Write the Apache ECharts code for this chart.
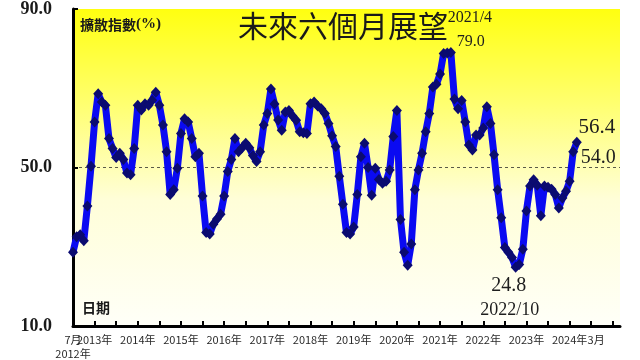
<!DOCTYPE html>
<html><head><meta charset="utf-8">
<script src="https://cdn.jsdelivr.net/npm/echarts@6/dist/echarts.min.js"></script>
<style>html,body{margin:0;padding:0;background:#fff}#c{width:640px;height:360px}</style>
</head><body><div id="c"></div>
<script>
// Monthly diffusion index, July 2012 .. March 2024
const values2012 = [28.6, 32.5, 33.0, 31.5, 40.3, 50.3];
const values2013 = [61.5, 68.6, 66.5, 65.7, 57.3, 54.8, 52.5, 53.6, 52.0, 48.6, 48.2, 54.8];
const values2014 = [65.7, 64.5, 66.1, 65.7, 67.0, 69.0, 65.7, 60.7, 54.0, 43.2, 44.4, 49.8];
const values2015 = [58.6, 62.3, 61.5, 57.3, 52.7, 53.6, 42.8, 33.6, 33.2, 35.7, 37.0, 38.2];
const values2016 = [42.8, 49.0, 52.0, 57.3, 54.0, 55.0, 56.1, 55.0, 53.0, 51.5, 54.0, 60.7];
const values2017 = [63.6, 69.8, 66.0, 62.0, 59.4, 64.0, 64.4, 63.0, 61.9, 59.0, 58.8, 58.6];
const values2018 = [66.1, 66.5, 65.5, 64.8, 63.6, 61.1, 58.0, 55.3, 47.8, 40.7, 33.6, 33.2];
const values2019 = [35.0, 43.2, 52.7, 56.1, 50.0, 43.0, 49.8, 47.0, 46.0, 46.5, 49.4, 57.8];
const values2020 = [64.4, 36.9, 28.6, 25.3, 30.7, 44.4, 49.4, 53.6, 59.0, 63.6, 70.3, 71.0];
const values2021 = [73.6, 78.8, 78.9, 79.0, 67.3, 64.8, 66.9, 61.5, 55.7, 54.4, 58.2, 58.2];
const values2022 = [60.0, 65.3, 61.1, 53.2, 44.4, 37.3, 29.8, 28.6, 27.3, 24.8, 25.5, 29.4];
const values2023 = [39.0, 45.3, 46.9, 45.5, 37.8, 45.3, 45.0, 44.5, 43.2, 39.8, 42.3, 44.0];
const values2024 = [46.5, 54.0, 56.4];

const yearLabels = ['2013年','2014年','2015年','2016年','2017年','2018年','2019年','2020年','2021年','2022年','2023年','2024年'];
const firstLabel = ['7月', '2012年'];
const lastMonthLabel = '3月';
const titleText = '未來六個月展望';
const yName = '擴散指數';
const yUnit = '(%)';
const xName = '日期';
// annotations: month index (from July 2012) and text
const notePeak = { index: 105, date: '2021/4' };
const noteLow = { index: 123, date: '2022/10' };
const noteLast = 140;
const notePrev = 139;

const values = [].concat(values2012, values2013, values2014, values2015, values2016,
  values2017, values2018, values2019, values2020, values2021, values2022, values2023, values2024);
const seriesData = values.map((v, i) => [i, v]);

const tickVals = [];
for (let m = 0; m <= 150; m += 6) tickVals.push(m);
const labelVals = [];
yearLabels.forEach((_, k) => labelVals.push(6 + 12 * k));

function fmtX(v) {
  const k = (v - 6) / 12;
  return yearLabels[k] || '';
}

const serif = "'Liberation Serif','Times New Roman',serif";
const cjk = "'Noto Sans CJK TC','Noto Sans CJK SC',sans-serif";

function note(idx, text, dx, dy, size) {
  return {
    coord: [idx, values[idx]], value: text, symbolSize: 0,
    label: { show: true, position: 'inside', offset: [dx, dy], formatter: text,
      color: '#1e1e1e', fontFamily: serif, fontSize: size }
  };
}

const chart = echarts.init(document.getElementById('c'), null, { renderer: 'canvas' });

function build() {
  // pixel positions of first/last months from the axis scale for the extra month texts
  const p0 = chart.convertToPixel({ xAxisIndex: 0, yAxisIndex: 0 }, [0, 10]);
  const pLast = chart.convertToPixel({ xAxisIndex: 0, yAxisIndex: 0 }, [6 + 12 * (yearLabels.length - 1), 10]);
  const lblStyle = { fontFamily: cjk, fontSize: 11, fill: '#2a2a2a' };
  chart.setOption({
    graphic: [
      { id: 'g1', type: 'text', x: p0[0], y: p0[1] + 14, style: Object.assign({ text: firstLabel[0], align: 'center', verticalAlign: 'middle' }, lblStyle) },
      { id: 'g2', type: 'text', x: p0[0], y: p0[1] + 28, style: Object.assign({ text: firstLabel[1], align: 'center', verticalAlign: 'middle' }, lblStyle) },
      { id: 'g3', type: 'text', x: pLast[0] + 18, y: p0[1] + 14, style: Object.assign({ text: lastMonthLabel, align: 'left', verticalAlign: 'middle' }, lblStyle) }
    ]
  });
}

chart.setOption({
  animation: false,
  backgroundColor: '#ffffff',
  title: {
    text: titleText, left: 233, top: 6,
    textStyle: { fontFamily: cjk, fontSize: 30, fontWeight: 'normal', color: '#1a1a1a' }
  },
  graphic: [
    { id: 'yname', type: 'text', left: 80, top: 17, style: {
      text: '{a|' + yName + '}{b|' + yUnit + '}',
      rich: { a: { fontFamily: cjk, fontWeight: 'bold', fontSize: 14, fill: '#1a1a1a' },
              b: { fontFamily: serif, fontWeight: 'bold', fontSize: 15, fill: '#1a1a1a' } } } },
    { id: 'xname', type: 'text', left: 82, top: 301, style: {
      text: xName, fontFamily: cjk, fontWeight: 'bold', fontSize: 14, fill: '#1a1a1a' } }
  ],
  grid: {
    left: 73, right: 20, top: 6, bottom: 34, show: true, borderWidth: 0,
    backgroundColor: { type: 'linear', x: 0, y: 0, x2: 0, y2: 1, colorStops: [
      { offset: 0, color: '#ffff10' }, { offset: 0.3, color: '#ffff70' },
      { offset: 0.6, color: '#fffed8' }, { offset: 1, color: '#fffff8' }] }
  },
  xAxis: {
    type: 'value', min: 0, max: 152, interval: 6,
    axisLine: { lineStyle: { color: '#000', width: 3 } },
    axisTick: { show: true, inside: true, length: 5, lineStyle: { color: '#000', width: 2 }, customValues: tickVals },
    splitLine: { show: false },
    axisLabel: {
      customValues: labelVals, formatter: fmtX, margin: 8,
      color: '#2a2a2a', fontFamily: cjk, fontSize: 11
    }
  },
  yAxis: {
    type: 'value', min: 10, max: 90, interval: 40,
    axisLine: { show: true, lineStyle: { color: '#000', width: 3 } },
    axisTick: { show: true, inside: true, length: 5, lineStyle: { color: '#000', width: 2 } },
    axisLabel: { formatter: v => v.toFixed(1), margin: 21, color: '#1a1a1a',
      fontFamily: serif, fontWeight: 'bold', fontSize: 18 },
    splitLine: { show: true, lineStyle: { type: [3, 3], width: 1,
      color: ['rgba(0,0,0,0)', '#5a5a48', 'rgba(0,0,0,0)'] } }
  },
  series: [{
    type: 'line', data: seriesData,
    symbol: 'diamond', symbolSize: [10, 11], showAllSymbol: true,
    lineStyle: { color: '#0a0af2', width: 7 },
    itemStyle: { color: '#0b0b70' },
    markPoint: {
      symbol: 'circle', symbolSize: 0, silent: true,
      data: [
        note(notePeak.index, notePeak.date, 19, -35, 16),
        note(notePeak.index, values[notePeak.index].toFixed(1), 20, -11, 16),
        note(noteLast, values[noteLast].toFixed(1), 20, -15, 21),
        note(notePrev, values[notePrev].toFixed(1), 25, 6, 20),
        note(noteLow.index, values[noteLow.index].toFixed(1), -7, 18, 20),
        note(noteLow.index, noteLow.date, -6, 43, 18)
      ]
    }
  }]
});
build();
</script></body></html>
